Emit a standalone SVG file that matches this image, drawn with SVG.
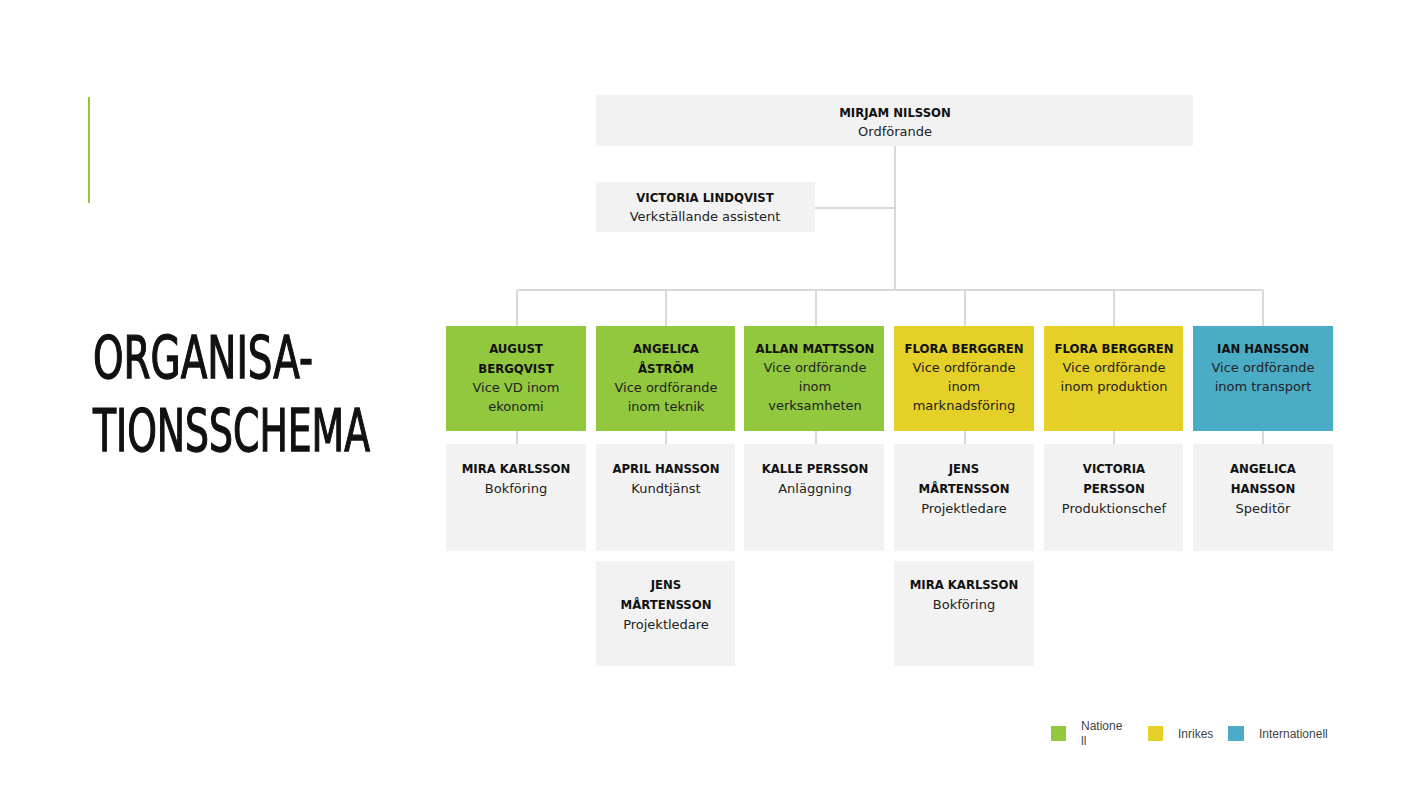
<svg xmlns="http://www.w3.org/2000/svg" width="1422" height="800" viewBox="0 0 1422 800">
<style>
.box{fill:#F2F2F2}
.g{fill:#92C83E}
.y{fill:#E5D027}
.b{fill:#4BACC6}
.n{font-family:"DejaVu Sans Condensed","DejaVu Sans",sans-serif;font-weight:bold;font-size:13px;fill:#111;text-anchor:middle}
.r{font-family:"DejaVu Sans",sans-serif;font-size:13px;fill:#222;text-anchor:middle}
.c{stroke:#D9D9D9;stroke-width:2;fill:none}
.lg{font-family:"Liberation Sans",Arial,sans-serif;font-size:12px;fill:#444}
.t{font-family:"DejaVu Sans Condensed",sans-serif;font-size:58px;fill:#111;stroke:#111;stroke-width:1.3}
</style>
<rect width="1422" height="800" fill="#FFFFFF"/>
<line x1="89" y1="97" x2="89" y2="203" stroke="#92C83E" stroke-width="2"/>
<g id="title">
<text class="t" x="93" y="378" textLength="220" lengthAdjust="spacingAndGlyphs">ORGANISA-</text>
<text class="t" x="93" y="451" textLength="277" lengthAdjust="spacingAndGlyphs">TIONSSCHEMA</text>
</g>
<g id="connectors">
<path class="c" d="M895 146V290M815 208H895M517 290H1263M517 290V326M666 290V326M816 290V326M965 290V326M1114 290V326M1263 290V326"/>
<path class="c" d="M517 431V444M666 431V444M816 431V444M965 431V444M1114 431V444M1263 431V444"/>
</g>
<g id="n-mirjam"><rect class="box" x="596" y="95" width="597" height="51"/><text class="n" x="895" y="117">MIRJAM NILSSON</text><text class="r" x="895" y="136">Ordförande</text></g>
<g id="n-victoria-l"><rect class="box" x="596" y="182" width="219" height="50"/><text class="n" x="705" y="202">VICTORIA LINDQVIST</text><text class="r" x="705" y="221">Verkställande assistent</text></g>
<g id="n-august"><rect class="g" x="446" y="326" width="140" height="105"/><text class="n" x="516" y="353">AUGUST</text><text class="n" x="516" y="373">BERGQVIST</text><text class="r" x="516" y="392">Vice VD inom</text><text class="r" x="516" y="411">ekonomi</text></g>
<g id="n-angelica-a"><rect class="g" x="596" y="326" width="139" height="105"/><text class="n" x="666" y="353">ANGELICA</text><text class="n" x="666" y="373">ÅSTRÖM</text><text class="r" x="666" y="392">Vice ordförande</text><text class="r" x="666" y="411">inom teknik</text></g>
<g id="n-allan"><rect class="g" x="744" y="326" width="140" height="105"/><text class="n" x="815" y="353">ALLAN MATTSSON</text><text class="r" x="815" y="372">Vice ordförande</text><text class="r" x="815" y="391">inom</text><text class="r" x="815" y="410">verksamheten</text></g>
<g id="n-flora1"><rect class="y" x="894" y="326" width="140" height="105"/><text class="n" x="964" y="353">FLORA BERGGREN</text><text class="r" x="964" y="372">Vice ordförande</text><text class="r" x="964" y="391">inom</text><text class="r" x="964" y="410">marknadsföring</text></g>
<g id="n-flora2"><rect class="y" x="1044" y="326" width="139" height="105"/><text class="n" x="1114" y="353">FLORA BERGGREN</text><text class="r" x="1114" y="372">Vice ordförande</text><text class="r" x="1114" y="391">inom produktion</text></g>
<g id="n-ian"><rect class="b" x="1193" y="326" width="140" height="105"/><text class="n" x="1263" y="353">IAN HANSSON</text><text class="r" x="1263" y="372">Vice ordförande</text><text class="r" x="1263" y="391">inom transport</text></g>
<g id="n-mira1"><rect class="box" x="446" y="444" width="140" height="107"/><text class="n" x="516" y="473">MIRA KARLSSON</text><text class="r" x="516" y="493">Bokföring</text></g>
<g id="n-april"><rect class="box" x="596" y="444" width="139" height="107"/><text class="n" x="666" y="473">APRIL HANSSON</text><text class="r" x="666" y="493">Kundtjänst</text></g>
<g id="n-kalle"><rect class="box" x="744" y="444" width="140" height="107"/><text class="n" x="815" y="473">KALLE PERSSON</text><text class="r" x="815" y="493">Anläggning</text></g>
<g id="n-jens1"><rect class="box" x="894" y="444" width="140" height="107"/><text class="n" x="964" y="473">JENS</text><text class="n" x="964" y="493">MÅRTENSSON</text><text class="r" x="964" y="513">Projektledare</text></g>
<g id="n-victoria-p"><rect class="box" x="1044" y="444" width="139" height="107"/><text class="n" x="1114" y="473">VICTORIA</text><text class="n" x="1114" y="493">PERSSON</text><text class="r" x="1114" y="513">Produktionschef</text></g>
<g id="n-angelica-h"><rect class="box" x="1193" y="444" width="140" height="107"/><text class="n" x="1263" y="473">ANGELICA</text><text class="n" x="1263" y="493">HANSSON</text><text class="r" x="1263" y="513">Speditör</text></g>
<g id="n-jens2"><rect class="box" x="596" y="561" width="139" height="105"/><text class="n" x="666" y="589">JENS</text><text class="n" x="666" y="609">MÅRTENSSON</text><text class="r" x="666" y="629">Projektledare</text></g>
<g id="n-mira2"><rect class="box" x="894" y="561" width="140" height="105"/><text class="n" x="964" y="589">MIRA KARLSSON</text><text class="r" x="964" y="609">Bokföring</text></g>
<g id="legend">
<rect class="g" x="1051" y="726" width="15" height="15"/>
<text class="lg" x="1081" y="730">Natione</text><text class="lg" x="1081" y="745">ll</text>
<rect class="y" x="1148" y="726" width="15" height="15"/>
<text class="lg" x="1178" y="738">Inrikes</text>
<rect class="b" x="1228" y="726" width="16" height="15"/>
<text class="lg" x="1259" y="738">Internationell</text>
</g>
</svg>
